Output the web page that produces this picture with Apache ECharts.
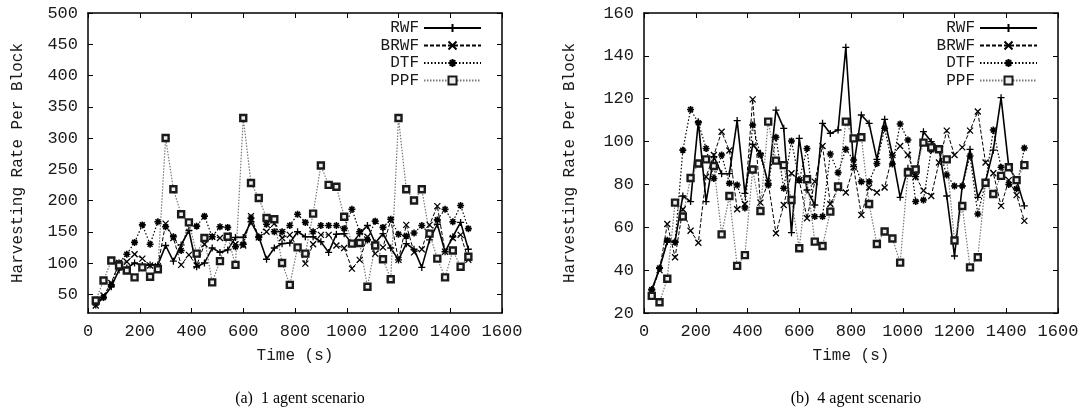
<!DOCTYPE html>
<html>
<head>
<meta charset="utf-8">
<script src="https://cdn.jsdelivr.net/npm/echarts@6/dist/echarts.min.js"></script>
<style>
  html, body { margin: 0; padding: 0; background: #fff; }
  #chart { width: 1085px; height: 414px; }
</style>
</head>
<body>
<div id="chart"></div>
<script>
// sample times (s), same for every series
var times = [30, 60, 90, 120, 150, 180, 210, 240, 270, 300, 330, 360, 390, 420, 450, 480, 510, 540, 570, 600,
             630, 660, 690, 720, 750, 780, 810, 840, 870, 900, 930, 960, 990, 1020, 1050, 1080, 1110, 1140, 1170, 1200,
             1230, 1260, 1290, 1320, 1350, 1380, 1410, 1440, 1470];

// (a) 1 agent scenario
var rwfA  = [33, 45, 62, 89, 92, 100, 96, 97, 97, 128, 103, 129, 152, 94, 100, 124, 117, 121, 141, 141,
             166, 142, 106, 124, 131, 132, 150, 142, 142, 134, 117, 146, 147, 131, 147, 160, 132, 147, 124, 105,
             131, 122, 93, 137, 162, 118, 142, 165, 122];
var brwfA = [32, 48, 68, 100, 102, 114, 107, 96, 95, 163, 140, 97, 113, 96, 130, 142, 140, 140, 130, 128,
             175, 141, 150, 163, 140, 145, 125, 99, 130, 145, 145, 128, 124, 91, 105, 142, 115, 125, 169, 105,
             161, 117, 122, 161, 191, 118, 140, 145, 105];
var dtfA  = [36, 45, 65, 100, 114, 133, 161, 130, 166, 158, 142, 120, 165, 159, 175, 142, 158, 157, 126, 130,
             172, 141, 162, 150, 150, 160, 178, 165, 150, 160, 160, 160, 155, 186, 150, 137, 167, 157, 170, 146,
             143, 148, 160, 146, 169, 186, 166, 192, 155];
var ppfA  = [40, 72, 104, 96, 88, 77, 93, 78, 90, 300, 218, 178, 165, 115, 140, 69, 103, 142, 97, 332,
             228, 204, 172, 170, 100, 65, 125, 115, 179, 256, 225, 222, 174, 131, 132, 62, 128, 106, 74, 332,
             218, 200, 218, 147, 107, 77, 120, 94, 110];

// (b) 4 agent scenario
var rwfB  = [30.7, 40.8, 53.3, 53.3, 74.6, 72, 109.3, 72, 93, 85, 85, 109.8, 75.8, 98.7, 94.5, 80.5, 114.7, 106.2, 57.5, 101.5,
             77.4, 70.4, 108.5, 103.8, 105.4, 144, 88.3, 112.4, 108.5, 91.7, 110.4, 93.7, 74, 87.5, 83.6, 104.6, 100, 96.8, 74.6, 46.6,
             79.3, 96.4, 74, 81.3, 96, 120.5, 88, 82, 70];
var brwfB = [30, 40, 61.5, 46, 68.4, 58.4, 52.8, 83.6, 93.7, 104.6, 95.8, 68.4, 70.9, 119.7, 71.5, 80.8, 57.2, 70.4, 85.2, 82,
             64.2, 81.3, 97.9, 70.9, 78.2, 76.2, 88, 65.7, 78.6, 76.2, 78.6, 93.7, 97.9, 93.7, 83.6, 77.1, 74.6, 90.2, 105.1, 93.7,
             97.3, 105.1, 114, 90.2, 85.2, 70, 82, 75, 63];
var dtfB  = [31, 41, 54, 53, 96, 115, 108.8, 96.8, 82.8, 93.7, 80.5, 79.7, 69, 107.7, 93.7, 79.7, 102, 78.2, 100.3, 82,
             96.8, 65, 65, 94.2, 85.5, 96.4, 91.4, 81.3, 81.3, 89.8, 106.2, 89.5, 108.2, 100.7, 72, 72.7, 96.1, 96.4, 84.4, 79.3,
             79.3, 93.3, 66.2, 80.8, 105.4, 88, 80, 78, 97];
var ppfB  = [28, 25, 36, 71.5, 65, 83, 89.8, 91.7, 88.6, 56.7, 74.6, 42, 47, 87, 67.6, 109.3, 91.1, 89, 72.7, 50.2,
             82.4, 53.3, 51.3, 67.3, 79, 109.3, 101.5, 102, 70.9, 52.2, 58, 54.8, 43.5, 85.5, 87, 99.5, 97.3, 96.4, 91.7, 53.8,
             69.9, 41.3, 46, 80.8, 75.5, 84, 88, 82, 89];

var names = ["RWF", "BRWF", "DTF", "PPF"];
var yTicksA = [50, 100, 150, 200, 250, 300, 350, 400, 450, 500];

var mono = "Liberation Mono";
var ink = '#1a1a1a';

// per-series look, gnuplot style
var looks = {
    RWF:  { symbol: 'path://M0,5L10,5M5,0L5,10', size: 7,
            item: { color: '#000', borderColor: '#000', borderWidth: 1.3 },
            line: { color: '#000', width: 1.6, type: 'solid' } },
    BRWF: { symbol: 'path://M0,0L10,10M10,0L0,10', size: 6,
            item: { color: '#000', borderColor: '#000', borderWidth: 1.3 },
            line: { color: '#000', width: 1, type: [4, 2] } },
    DTF:  { symbol: 'path://M0,5L10,5M5,0L5,10M1.5,1.5L8.5,8.5M8.5,1.5L1.5,8.5', size: 7,
            item: { color: '#000', borderColor: '#000', borderWidth: 1.6 },
            line: { color: '#000', width: 1.2, type: [1.5, 2] } },
    PPF:  { symbol: 'rect', size: 6,
            item: { color: '#eee', borderColor: '#1a1a1a', borderWidth: 2.4 },
            line: { color: '#777', width: 1.2, type: [1.5, 1.5] } }
};

function pairs(vals) {
    return times.map((t, i) => [t, vals[i]]);
}

function mkSeries(name, vals, ax) {
    var lk = looks[name];
    return {
        name: name, type: 'line', xAxisIndex: ax, yAxisIndex: ax,
        data: pairs(vals),
        symbol: lk.symbol, symbolSize: lk.size, showSymbol: true,
        itemStyle: lk.item, lineStyle: lk.line,
        emphasis: { disabled: true }
    };
}

function plain(v) { return String(v); }

function mkX(grid, pos, labels) {
    return {
        type: 'value', gridIndex: grid, position: pos, min: 0, max: 1600, interval: 200,
        name: labels ? 'Time (s)' : '', nameLocation: 'middle', nameGap: 35,
        nameTextStyle: { fontFamily: mono, fontSize: 16, color: ink },
        axisLine: { show: true, onZero: false, lineStyle: { color: '#000', width: 1.5 } },
        axisTick: { show: true, inside: true, length: 5, lineStyle: { color: '#000' } },
        axisLabel: { show: labels, fontFamily: mono, fontSize: 17, color: ink, margin: 10, formatter: plain },
        splitLine: { show: false }
    };
}

function mkY(grid, pos, labels, min, max, interval, ticks, gap) {
    var ax = {
        type: 'value', gridIndex: grid, position: pos, min: min, max: max,
        name: labels ? 'Harvesting Rate Per Block' : '', nameLocation: 'middle', nameGap: gap,
        nameTextStyle: { fontFamily: mono, fontSize: 16, color: ink },
        axisLine: { show: true, onZero: false, lineStyle: { color: '#000', width: 1.5 } },
        axisTick: { show: true, inside: true, length: 5, lineStyle: { color: '#000' } },
        axisLabel: { show: labels, fontFamily: mono, fontSize: 17, color: ink, margin: 10, formatter: plain },
        splitLine: { show: false }
    };
    if (ticks) {
        ax.axisTick.customValues = ticks;
        ax.axisLabel.customValues = ticks;
    } else {
        ax.interval = interval;
    }
    return ax;
}

function mkLegend(right) {
    return {
        orient: 'vertical', right: right, top: 15, align: 'right',
        itemWidth: 57, itemHeight: 10, itemGap: 1.5,
        data: names,
        textStyle: { fontFamily: mono, fontSize: 16, color: ink, lineHeight: 16, width: 42, align: 'right' },
        selectedMode: false
    };
}

var chart = echarts.init(document.getElementById('chart'));
var option = {
    animation: false,
    title: [
        { text: '(a)  1 agent scenario', left: 295, top: 386, textAlign: 'center',
          textStyle: { fontFamily: 'Liberation Serif', fontSize: 16, fontWeight: 'normal', color: '#000' } },
        { text: '(b)  4 agent scenario', left: 851, top: 386, textAlign: 'center',
          textStyle: { fontFamily: 'Liberation Serif', fontSize: 16, fontWeight: 'normal', color: '#000' } }
    ],
    legend: [mkLegend(598), mkLegend(42)],
    grid: [
        { left: 88, top: 13, width: 414, height: 300 },
        { left: 644, top: 13, width: 414, height: 300 }
    ],
    xAxis: [mkX(0, 'bottom', true), mkX(0, 'top', false), mkX(1, 'bottom', true), mkX(1, 'top', false)],
    yAxis: [
        mkY(0, 'left', true, 20, 500, null, yTicksA, 62),
        mkY(0, 'right', false, 20, 500, null, yTicksA, 62),
        mkY(1, 'left', true, 20, 160, 20, null, 66),
        mkY(1, 'right', false, 20, 160, 20, null, 66)
    ],
    series: [
        mkSeries('RWF', rwfA, 0), mkSeries('BRWF', brwfA, 0), mkSeries('DTF', dtfA, 0), mkSeries('PPF', ppfA, 0),
        mkSeries('RWF', rwfB, 2), mkSeries('BRWF', brwfB, 2), mkSeries('DTF', dtfB, 2), mkSeries('PPF', ppfB, 2)
    ]
};
chart.setOption(option);
</script>
</body>
</html>
